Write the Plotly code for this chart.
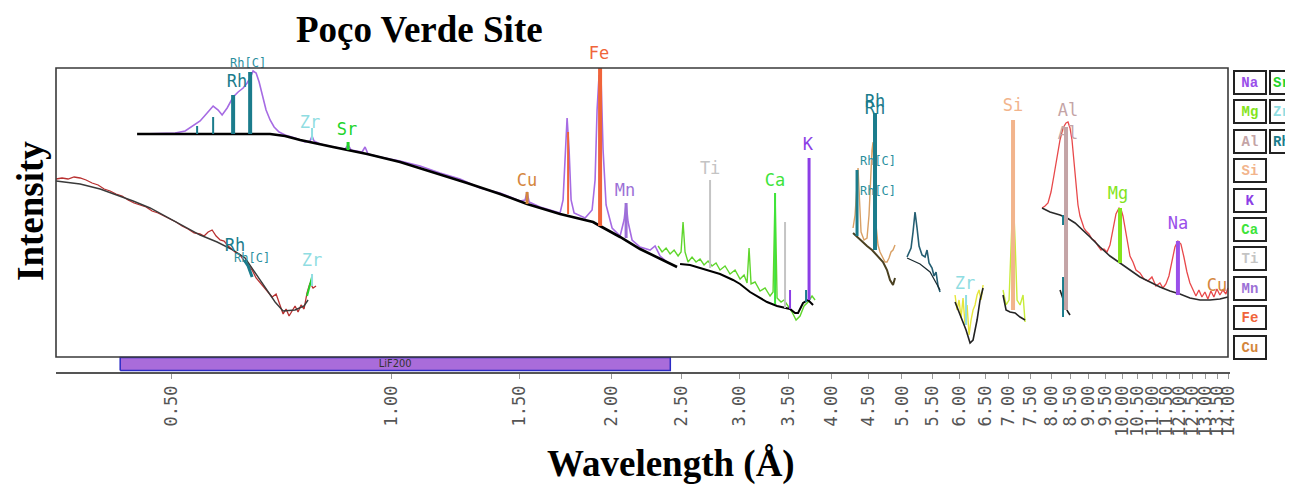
import plotly.graph_objects as go

# ---------------- data (wavelength in Angstrom, intensity in arbitrary units) ----------------
# Upper LiF200 scan: measured spectrum and fitted background
top_meas_x = [0.4535,0.4831,0.5065,0.5227,0.5344,0.5480,0.5602,0.5709,0.5800,0.5873,0.5967,0.6080,0.6177,0.6275,0.6354,0.6415,0.6475,0.6537,0.6599,0.6683,0.6745,0.6831,0.6918,0.7028,0.7161,0.7390,0.7626,0.7747,0.7796,0.7845,0.7995,0.8329,0.8650,0.8733,0.8816,0.9128,0.9213,0.9301,0.9659,1.0287,1.0956,1.1668,1.2428,1.3236,1.4097,1.5014,1.5252,1.5349,1.5446,1.5990,1.6764,1.7030,1.7191,1.7300,1.7410,1.7520,1.7631,1.7798,1.8425,1.8836,1.9015,1.9135,1.9256,1.9378,1.9500,1.9686,2.0062,2.0574,2.0834,2.0966,2.1098,2.1365,2.1910,2.2612,2.2971,2.3336,2.3855]
top_meas_y = [238,239,239,241,246,251,259,266,262,257,264,275,280,284,289,294,301,299,290,274,262,252,245,240,237,234,230,231,236,231,228,225,223,227,222,220,225,218,215,211,206,199,193,184,179,171,172,180,170,165,160,159,172,222,254,222,172,159,154,162,192,262,297,292,222,167,144,136,152,169,150,132,125,122,126,116,110]
top_fit_x = [0.4493,0.5144,0.6022,0.6831,0.7161,0.7511,0.8329,0.9273,1.0287,1.1414,1.2704,1.4097,1.5349,1.7030,1.8895,1.9317,2.0574,2.1910,2.3855,2.4617]
top_fit_y = [238,238,238,238,236,232,225,218,210,200,189,178,168,158,150,146,135,123,110,105]

# Lower LiF200 scan (left)
low_meas_x = [0.3481,0.3547,0.3615,0.3684,0.3755,0.3826,0.3899,0.3974,0.4050,0.4127,0.4205,0.4286,0.4367,0.4450,0.4535,0.4622,0.4710,0.4800,0.4891,0.4984,0.5079,0.5176,0.5275,0.5376,0.5478,0.5549,0.5620,0.5691,0.5763,0.5836,0.5910,0.5985,0.6061,0.6138,0.6216,0.6295,0.6374,0.6455,0.6537,0.6620,0.6704,0.6789,0.6875,0.6962,0.7050,0.7117,0.7184,0.7252,0.7321,0.7390,0.7460,0.7531,0.7602,0.7674,0.7747,0.7821,0.7895]
low_meas_y = [193,194,193,195,194,192,189,187,183,181,178,176,172,169,167,165,161,159,156,153,150,146,143,139,138,136,140,142,136,132,131,126,122,119,117,111,107,102,94,89,85,79,75,78,66,58,63,56,61,66,60,67,63,79,89,84,86]
low_fit_x = [0.3481,0.3755,0.3999,0.4259,0.4437,0.4681,0.4939,0.5193,0.5480,0.5781,0.6080,0.6314,0.6516,0.6767,0.6939,0.7116,0.7390,0.7602,0.7699]
low_fit_y = [191,188,183,176,171,164,155,146,137,130,122,114,99,82,70,61,62,66,72]

# PET-range scan (green)
mid_meas_x = [2.3190,2.3484,2.3782,2.4084,2.4389,2.4698,2.4929,2.5086,2.5245,2.5484,2.5807,2.6134,2.6467,2.6802,2.7142,2.7486,2.7835,2.8187,2.8635,2.9090,2.9552,3.0022,3.0403,3.0691,3.0885,3.1080,3.1474,3.1974,3.2482,3.2998,3.3311,3.3522,3.3734,3.4162,3.4485,3.4922,3.5365,3.5813,3.6267,3.6727,3.7193,3.7665,3.8022]
mid_meas_y = [126,120,124,118,122,116,120,150,120,110,115,110,113,107,111,106,109,102,106,98,102,93,97,89,124,88,90,81,84,76,80,179,74,70,72,66,60,52,56,66,70,76,72]
mid_fit_x = [2.4851,2.5646,2.6467,2.7572,2.8187,2.9365,3.0020,3.0980,3.1971,3.2684,3.3731,3.4592,3.5141,3.5700,3.6038,3.6611,3.7193,3.7784]
mid_fit_y = [108,107,104,100,98,92,88,80,74,70,66,64,63,59,59,69,72,67]

# Rh window
rh_meas_x = [4.2855,4.3126,4.3398,4.3535,4.3672,4.3948,4.4364,4.4784,4.5067,4.5352,4.5494,4.5638,4.5782,4.6071,4.6362,4.6656,4.7098,4.7396,4.7695,4.7996,4.8300,4.8605,4.8913]
rh_meas_y = [144,157,187,204,182,140,132,134,157,202,222,230,207,147,127,120,114,110,110,114,120,122,127]
rh_fit_x = [4.2855,4.3811,4.4784,4.5494,4.6362,4.7098,4.7695,4.8148,4.8605,4.8913]
rh_fit_y = [139,132,126,122,116,110,102,92,87,94]

# Window near 5.2 A
w52_meas_x = [5.0802,5.1123,5.1446,5.1771,5.2098,5.2427,5.2758,5.3259,5.3765,5.4105,5.4447,5.4964,5.5311,5.5661,5.6012,5.6366]
w52_meas_y = [115,120,124,140,160,144,126,117,115,122,109,104,96,100,86,80]
w52_fit_x = [5.0802,5.2924,5.4619,5.6366]
w52_fit_y = [114,108,100,82]

# Zr window
zr_meas_x = [5.9096,5.9469,5.9845,6.0223,6.0604,6.0987,6.1373,6.1761,6.2151,6.2544,6.2939,6.3337,6.3738,6.4141,6.4546]
zr_meas_y = [77,62,72,54,74,47,67,37,52,62,67,77,82,72,87]
zr_fit_x = [5.9096,6.0034,6.1180,6.1956,6.2544,6.3337,6.3939,6.4546]
zr_fit_y = [70,57,42,29,32,52,72,84]

# Si window
si_meas_x = [6.874,6.9392,7.0050,7.0494,7.0940,7.1389,7.1841,7.2523,7.3211,7.3674]
si_meas_y = [82,67,72,132,179,132,72,67,77,50]
si_fit_x = [6.874,6.9392,7.0271,7.1389,7.2523,7.3674]
si_fit_y = [77,62,60,59,55,52]

# Al window
al_fit_x = [8.2258,8.3039,8.3827,8.4357,8.4890]
al_fit_y = [82,72,64,60,57]

# Long-wavelength scan (right, red)
right_meas_x = [7.772,7.8458,7.9202,7.9954,8.0713,8.1479,8.2252,8.3033,8.3821,8.4350,8.4882,8.5418,8.5957,8.6499,8.7045,8.7594,8.8147,8.8703,8.9263,9.0110,9.0965,9.1829,9.2700,9.3580,9.4468,9.5365,9.6270,9.7184,9.8106,9.9037,9.9662,10.029,10.093,10.157,10.253,10.350,10.449,10.581,10.715,10.851,10.988,11.127,11.268,11.375,11.483,11.592,11.702,11.813,11.925,12.038,12.152,12.268,12.384,12.502,12.620,12.740,12.861,12.983,13.106,13.231,13.356,13.483,13.611,13.740,13.871,13.958]
right_meas_y = [164,166,169,180,197,217,232,244,249,250,244,232,212,187,167,156,150,144,141,138,133,131,126,122,123,120,127,142,158,164,163,156,144,130,116,110,102,99,93,91,95,86,89,84,88,96,110,125,131,128,115,100,89,83,76,82,75,80,73,81,75,83,77,82,78,84]
right_fit_x = [7.772,7.9697,8.2252,8.4097,8.6242,8.8441,9.0412,9.3305,9.6270,9.9371,10.253,10.581,10.921,11.268,11.629,12.001,12.384,12.785,13.193,13.611,13.958]
right_fit_y = [164,160,157,154,149,142,135,125,116,109,102,95,90,85,81,78,74,72,72,73,75]

# Element line markers: (element, wavelength, bottom, top, width)
marker_lines = [
    ("Rh", 0.5428, 238, 246, 2), ("Rh", 0.5709, 238, 255, 2), ("Rh", 0.6080, 238, 277, 4), ("Rh", 0.6415, 238, 300, 4),
    ("Zr", 0.7796, 232, 244, 2), ("Sr", 0.8733, 222, 230, 3),
    ("Cu", 1.5349, 168, 180, 3), ("Fe", 1.7465, 158, 240, 2), ("Fe", 1.9317, 146, 304, 4), ("Mn", 2.0966, 134, 169, 3),
    ("Ti", 2.7314, 104, 192, 2), ("Ca", 3.3522, 68, 179, 2), ("Ti", 3.4592, 64, 150, 2), ("K", 3.5141, 63, 82, 2),
    ("Rh", 3.6960, 70, 82, 2), ("K", 3.7310, 72, 214, 3),
    ("Rh", 4.3398, 136, 202, 3), ("Rh", 4.5926, 122, 259, 4),
    ("Zr", 6.1180, 47, 77, 2), ("Si", 7.0940, 62, 252, 4),
    ("Rh", 8.3039, 55, 95, 2), ("Rh", 8.3039, 147, 157, 2), ("Al", 8.3827, 62, 245, 4),
    ("Mg", 9.9371, 109, 164, 4), ("Na", 11.925, 77, 131, 4),
    ("Zr", 0.7796, 86, 98, 2),
]
low_rh_x = [0.6295, 0.6374, 0.6455]
low_rh_y = [112, 106, 95]
low_zr_x = [0.7674, 0.7796]
low_zr_y = [76, 95]

# Element labels: (text, wavelength, intensity, size)
labels = [
    ("Rh", 0.6157, 289, 17), ("Rh[C]", 0.6374, 308, 12), ("Zr", 0.7747, 248, 17), ("Sr", 0.8705, 241, 17),
    ("Cu", 1.5349, 190, 17), ("Fe", 1.9256, 317, 17), ("Mn", 2.0900, 180, 17), ("Ti", 2.7320, 202, 17),
    ("Ca", 3.3522, 190, 17), ("K", 3.7185, 226, 17),
    ("Rh", 4.5926, 269, 17), ("Rh", 4.5926, 262, 17), ("Rh[C]", 4.6362, 210, 12), ("Rh[C]", 4.6362, 180, 12),
    ("Zr", 6.0987, 87, 17), ("Si", 7.0940, 265, 17), ("Al", 8.4357, 260, 17), ("Al", 8.4357, 237, 17),
    ("Mg", 9.8727, 177, 17), ("Na", 11.925, 147, 17), ("Cu", 13.483, 85, 17),
    ("Rh", 0.6118, 125, 17), ("Rh[C]", 0.6455, 113, 12), ("Zr", 0.7796, 110, 17),
]

legend_col1 = ["Na", "Mg", "Al", "Si", "K", "Ca", "Ti", "Mn", "Fe", "Cu"]
legend_col2 = ["Sr", "Zr", "Rh"]

tick_vals = [0.5 * i for i in range(1, 29)]
tick_text = ["%.2f" % v for v in tick_vals]

crystal_name = "LiF200"
crystal_range = [0.426, 2.41]

# ---------------- styles ----------------
el_color = {
    "Na": "#9a50ea", "Mg": "#84e41c", "Al": "#c4a4a6", "Si": "#f2b48c", "K": "#8c3ee6",
    "Ca": "#3ee43a", "Ti": "#c4c4c4", "Mn": "#9c70d6", "Fe": "#f0643a", "Cu": "#d4863c",
    "Sr": "#22d42a", "Zr": "#8fdde2", "Rh": "#1b7c8c", "Rh[C]": "#2a8f9e",
}
mono = "DejaVu Sans Mono"

fig = go.Figure()

def add_line(x, y, color, width):
    fig.add_trace(go.Scatter(x=x, y=y, mode="lines", line=dict(color=color, width=width),
                             hoverinfo="skip", showlegend=False))

# crystal bar
fig.add_trace(go.Scatter(
    x=[crystal_range[0], crystal_range[1], crystal_range[1], crystal_range[0], crystal_range[0]],
    y=[1.5, 1.5, 14.5, 14.5, 1.5], mode="lines", fill="toself", fillcolor="#a96cda",
    line=dict(color="#2b2bc4", width=1.5), hoverinfo="skip", showlegend=False))
fig.add_trace(go.Scatter(x=[1.013], y=[8], mode="text", text=[crystal_name],
                         textfont=dict(family="DejaVu Sans Condensed", size=11, color="#333"),
                         hoverinfo="skip", showlegend=False))

# spectra
add_line(top_meas_x, top_meas_y, "#a66be3", 1.6)
add_line(top_fit_x, top_fit_y, "#000000", 2.6)
add_line(low_meas_x, low_meas_y, "#b83030", 1.3)
add_line(low_fit_x, low_fit_y, "#3a3a3a", 1.4)
add_line(mid_meas_x, mid_meas_y, "#5fd62c", 1.4)
add_line(mid_fit_x, mid_fit_y, "#000000", 2.0)
add_line(rh_meas_x, rh_meas_y, "#d9a064", 1.4)
add_line(rh_fit_x, rh_fit_y, "#4a4020", 2.0)
add_line(w52_meas_x, w52_meas_y, "#245e72", 1.6)
add_line(w52_fit_x, w52_fit_y, "#1a2a30", 1.2)
add_line(zr_meas_x, zr_meas_y, "#e6e63a", 1.4)
add_line(zr_fit_x, zr_fit_y, "#222222", 1.6)
add_line(si_meas_x, si_meas_y, "#c8ec3a", 1.4)
add_line(si_fit_x, si_fit_y, "#222222", 1.6)
add_line(al_fit_x, al_fit_y, "#222222", 1.6)
add_line(right_meas_x, right_meas_y, "#e8484a", 1.3)
add_line(right_fit_x, right_fit_y, "#2a2a2a", 1.6)
add_line(low_rh_x, low_rh_y, "#1b7c8c", 3)
add_line(low_zr_x, low_zr_y, "#22d42a", 2)

for el, wl, lo, hi, w in marker_lines:
    add_line([wl, wl], [lo, hi], el_color[el], w)

# element labels
for txt, wl, inten, size in labels:
    fig.add_trace(go.Scatter(x=[wl], y=[inten], mode="text", text=[txt],
                             textfont=dict(family=mono, size=size, color=el_color[txt]),
                             cliponaxis=False, hoverinfo="skip", showlegend=False))

# ---------------- layout ----------------
# the page body has an 8px margin, so the figure is sized to sit inside the window
OFF = 8
W, H = 1285, 478
L, R, T, B = 48, 63, 34, 114
pw, ph = W - L - R, H - T - B
Y_MAX = 330  # axis extends above the frame so labels over the frame stay visible

def px_x(p):
    return (p - OFF - L) / pw

def px_y(p):
    return (H - B - (p - OFF)) / ph

shapes = [dict(type="rect", xref="paper", yref="paper", x0=0, x1=px_x(1228), y0=px_y(357), y1=px_y(68),
               line=dict(color="#3a3a3a", width=1.6), layer="above")]

annotations = [
    dict(text="<b>Poço Verde Site</b>", xref="paper", yref="paper", x=px_x(419), y=px_y(30),
         xanchor="center", yanchor="middle", showarrow=False,
         font=dict(family="Liberation Serif", size=37, color="#000")),
    dict(text="<b>Intensity</b>", xref="paper", yref="paper", x=px_x(30), y=px_y(211),
         xanchor="center", yanchor="middle", textangle=-90, showarrow=False,
         font=dict(family="Liberation Serif", size=37, color="#000")),
    dict(text="<b>Wavelength (Å)</b>", xref="paper", yref="paper", x=px_x(671), y=px_y(464),
         xanchor="center", yanchor="middle", showarrow=False,
         font=dict(family="Liberation Serif", size=37, color="#000")),
]
for i, el in enumerate(legend_col1):
    annotations.append(dict(text="<b>%s</b>" % el, xref="paper", yref="paper", x=px_x(1250),
                            y=px_y(82.5 + 29.4 * i), xanchor="center", yanchor="middle",
                            showarrow=False, width=26, height=17,
                            bordercolor="#222", borderwidth=2, borderpad=2, bgcolor="white",
                            font=dict(family="Liberation Mono", size=14, color=el_color[el])))
for i, el in enumerate(legend_col2):
    annotations.append(dict(text="<b>%s</b>" % el, xref="paper", yref="paper", x=px_x(1269),
                            y=px_y(82.5 + 29.4 * i), xanchor="left", yanchor="middle", align="left",
                            showarrow=False, width=26, height=17,
                            bordercolor="#222", borderwidth=2, borderpad=2, bgcolor="white",
                            font=dict(family="Liberation Mono", size=14, color=el_color[el])))

fig.update_layout(
    width=W, height=H, margin=dict(l=L, r=R, t=T, b=B, autoexpand=False),
    paper_bgcolor="white", plot_bgcolor="white", showlegend=False,
    shapes=shapes, annotations=annotations,
    xaxis=dict(type="log", range=[-0.4584, 1.1477], tickvals=tick_vals, ticktext=tick_text,
               tickangle=-90, ticks="outside", ticklen=5, tickcolor="#999",
               tickfont=dict(family=mono, size=17, color="#555"),
               showline=True, linecolor="#555", linewidth=1.5, showgrid=False, zeroline=False),
    yaxis=dict(range=[0, Y_MAX], visible=False, showgrid=False, zeroline=False),
)

fig.write_html("out.html")
